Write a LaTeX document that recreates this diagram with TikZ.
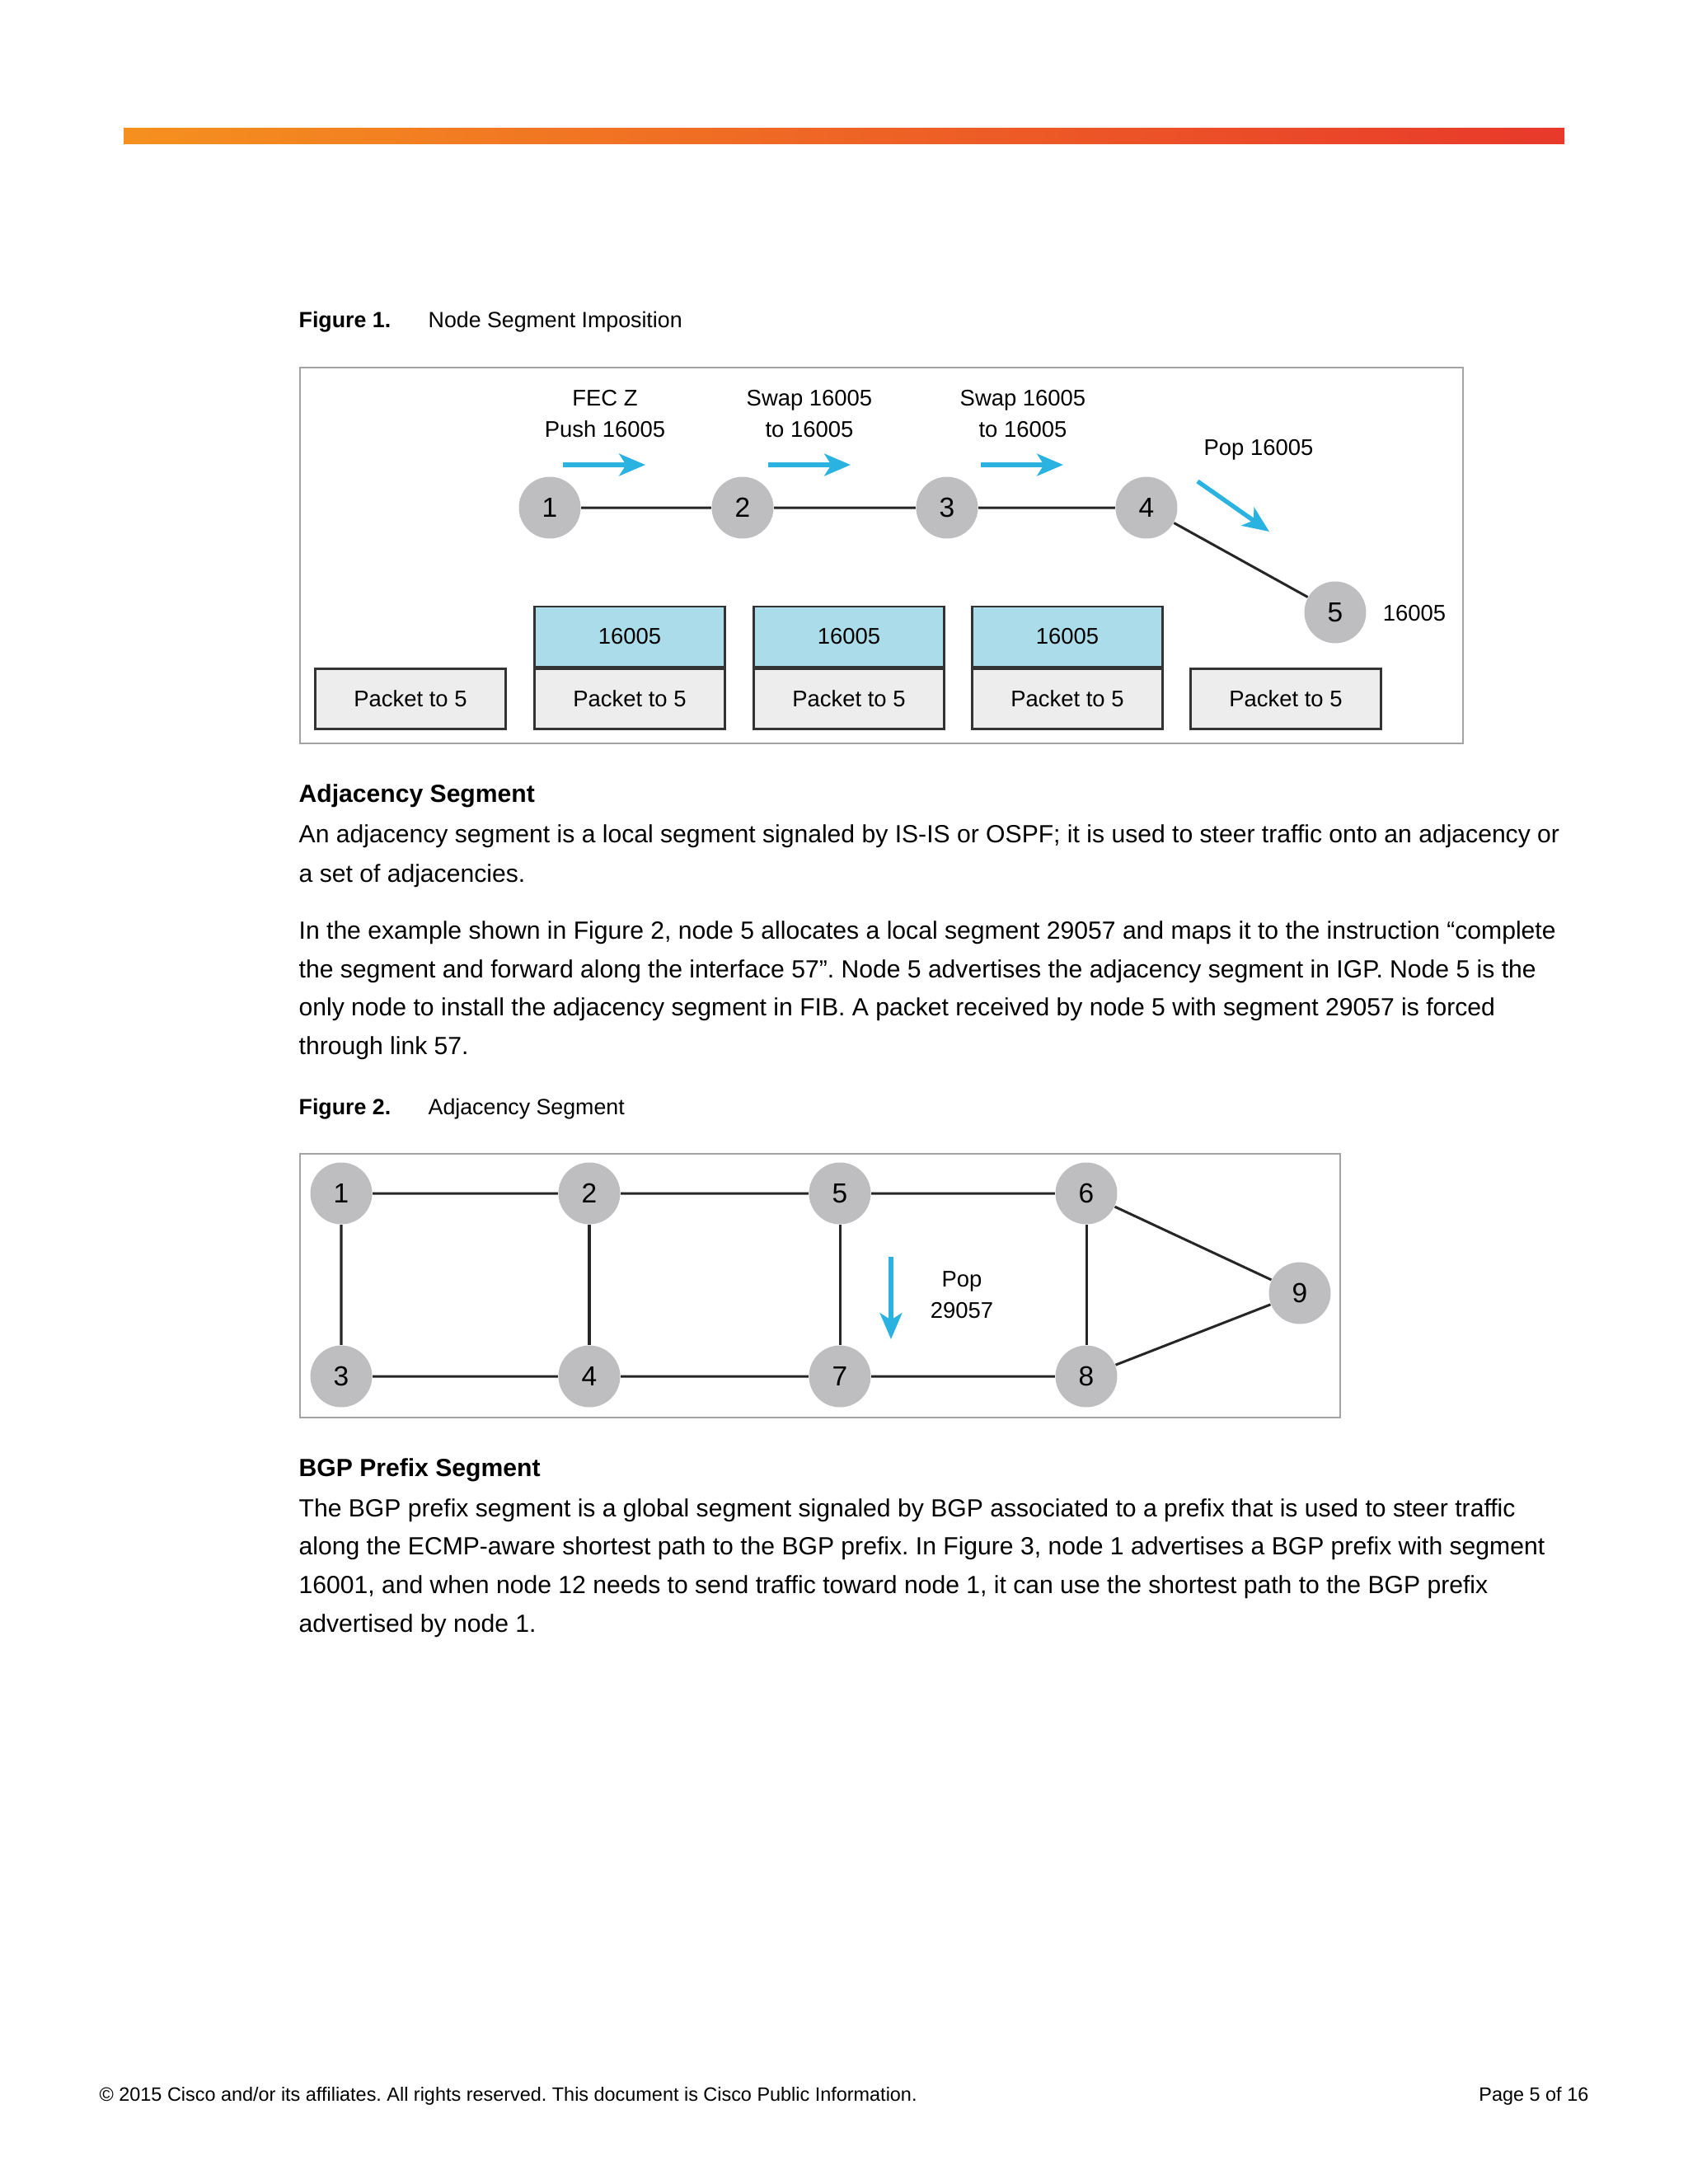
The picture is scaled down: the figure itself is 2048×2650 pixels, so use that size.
\documentclass[tikz,border=0pt]{standalone}
\usepackage{fontspec}
\setmainfont{Liberation Sans}
\usetikzlibrary{arrows.meta,positioning,calc}
\frenchspacing

\definecolor{barorange}{HTML}{F5901F}
\definecolor{barred}{HTML}{E8392B}
\definecolor{framegray}{HTML}{A3A3A3}
\definecolor{nodegray}{HTML}{BEBEC0}
\definecolor{pktgray}{HTML}{EDEDEE}
\definecolor{lblblue}{HTML}{AADCEA}
\definecolor{flowblue}{HTML}{2AB3E0}
\definecolor{boxline}{HTML}{333333}

\tikzset{
  router/.style={circle,fill=nodegray,minimum size=22.4pt,inner sep=0pt,font=\fontsize{10}{12}\selectfont},
  hop/.style={line width=0.9pt,black!85},
  flow/.style={line width=1.6pt,flowblue,-{Stealth[length=9.5pt,width=8pt,inset=2.5pt]}},
  pkt/.style={draw=boxline,line width=0.8pt,fill=pktgray,minimum width=69pt,minimum height=21.8pt,inner sep=0pt,font=\fontsize{8.2}{10}\selectfont},
  lbl/.style={pkt,fill=lblblue},
  figtxt/.style={align=center,inner sep=0pt,font=\fontsize{8.2}{11.4}\selectfont},
  body/.style={anchor=base west,inner sep=0pt,font=\fontsize{9}{14}\selectfont},
  head/.style={body,font=\fontsize{9}{14}\selectfont\bfseries},
  frame/.style={draw=framegray,line width=0.6pt}
}

\begin{document}
\begin{tikzpicture}[x=0.298828pt,y=-0.298828pt]
  \useasboundingbox (0,0) rectangle (2048,2650);
  \fill[white] (0,0) rectangle (2048,2650);

  % top bar
  \shade[left color=barorange,right color=barred] (150,155) rectangle (1898,174);

  % figure 1
  \node[head,font=\fontsize{8}{10}\selectfont\bfseries] (cap1) at (362,397) {Figure 1.};
  \node[body,font=\fontsize{8}{10}\selectfont] (cap1t) at (519,397) {Node Segment Imposition};
  \draw[frame] (364,446) rectangle (1775,902);

  \node[router] (r1) at (667,616) {1};
  \node[router] (r2) at (901,616) {2};
  \node[router] (r3) at (1149,616) {3};
  \node[router] (r4) at (1391,616) {4};
  \node[router] (r5) at (1620,743) {5};
  \draw[hop] (r1) -- (r2) -- (r3) -- (r4) -- (r5);

  \node[figtxt] (op1) at (734,502) {FEC Z\\Push 16005};
  \node[figtxt] (op2) at (982,502) {Swap 16005\\to 16005};
  \node[figtxt] (op3) at (1241,502) {Swap 16005\\to 16005};
  \node[figtxt] (op4) at (1527,546) {Pop 16005};
  \node[figtxt] (s5) at (1716,744) {16005};

  \coordinate (f1a) at (683,564);  \coordinate (f1b) at (783,564);
  \coordinate (f2a) at (932,564);  \coordinate (f2b) at (1032,564);
  \coordinate (f3a) at (1190,564); \coordinate (f3b) at (1290,564);
  \coordinate (f4a) at (1453,584); \coordinate (f4b) at (1540,645);
  \draw[flow] (f1a) -- (f1b);
  \draw[flow] (f2a) -- (f2b);
  \draw[flow] (f3a) -- (f3b);
  \draw[flow] (f4a) -- (f4b);

  \node[pkt] (pk1) at (498,848) {Packet to 5};
  \node[pkt] (pk2) at (764,848) {Packet to 5};
  \node[pkt] (pk3) at (1030,848) {Packet to 5};
  \node[pkt] (pk4) at (1295,848) {Packet to 5};
  \node[pkt] (pk5) at (1560,848) {Packet to 5};
  \node[lbl,above=0pt of pk2] (lb2) {16005};
  \node[lbl,above=0pt of pk3] (lb3) {16005};
  \node[lbl,above=0pt of pk4] (lb4) {16005};

  % adjacency segment text
  \node[head] (h1) at (362,973) {Adjacency Segment};
  \node[body] (a1) at (362,1022) {An adjacency segment is a local segment signaled by IS-IS or OSPF; it is used to steer traffic onto an adjacency or};
  \node[body] (a2) at (362,1070) {a set of adjacencies.};
  \node[body] (a3) at (362,1139) {In the example shown in Figure 2, node 5 allocates a local segment 29057 and maps it to the instruction “complete};
  \node[body] (a4) at (362,1186) {the segment and forward along the interface 57”. Node 5 advertises the adjacency segment in IGP. Node 5 is the};
  \node[body] (a5) at (362,1232) {only node to install the adjacency segment in FIB. A packet received by node 5 with segment 29057 is forced};
  \node[body] (a6) at (362,1279) {through link 57.};

  % figure 2
  \node[head,font=\fontsize{8}{10}\selectfont\bfseries] (cap2) at (362,1352) {Figure 2.};
  \node[body,font=\fontsize{8}{10}\selectfont] (cap2t) at (519,1352) {Adjacency Segment};
  \draw[frame] (364,1400) rectangle (1626,1720);

  \node[router] (n1) at (414,1448) {1};
  \node[router] (n2) at (715,1448) {2};
  \node[router] (n5) at (1019,1448) {5};
  \node[router] (n6) at (1318,1448) {6};
  \node[router] (n9) at (1577,1569) {9};
  \node[router] (n3) at (414,1670) {3};
  \node[router] (n4) at (715,1670) {4};
  \node[router] (n7) at (1019,1670) {7};
  \node[router] (n8) at (1318,1670) {8};
  \draw[hop] (n1) -- (n2) -- (n5) -- (n6) -- (n9) -- (n8) -- (n7) -- (n4) -- (n3) -- (n1);
  \draw[hop] (n2) -- (n4);
  \draw[hop] (n5) -- (n7);
  \draw[hop] (n6) -- (n8);

  \coordinate (p1) at (1081,1525); \coordinate (p2) at (1081,1625);
  \draw[flow] (p1) -- (p2);
  \node[figtxt] (pop) at (1167,1571) {Pop\\29057};

  % bgp prefix segment text
  \node[head] (h2) at (362,1791) {BGP Prefix Segment};
  \node[body] (b1) at (362,1840) {The BGP prefix segment is a global segment signaled by BGP associated to a prefix that is used to steer traffic};
  \node[body] (b2) at (362,1886) {along the ECMP-aware shortest path to the BGP prefix. In Figure 3, node 1 advertises a BGP prefix with segment};
  \node[body] (b3) at (362,1933) {16001, and when node 12 needs to send traffic toward node 1, it can use the shortest path to the BGP prefix};
  \node[body] (b4) at (362,1980) {advertised by node 1.};

  % footer
  \node[body,font=\fontsize{7}{9}\selectfont] (foot) at (120,2549) {© 2015 Cisco and/or its affiliates. All rights reserved. This document is Cisco Public Information.};
  \node[body,anchor=base east,font=\fontsize{7}{9}\selectfont] (page) at (1928,2549) {Page 5 of 16};
\end{tikzpicture}
\end{document}
